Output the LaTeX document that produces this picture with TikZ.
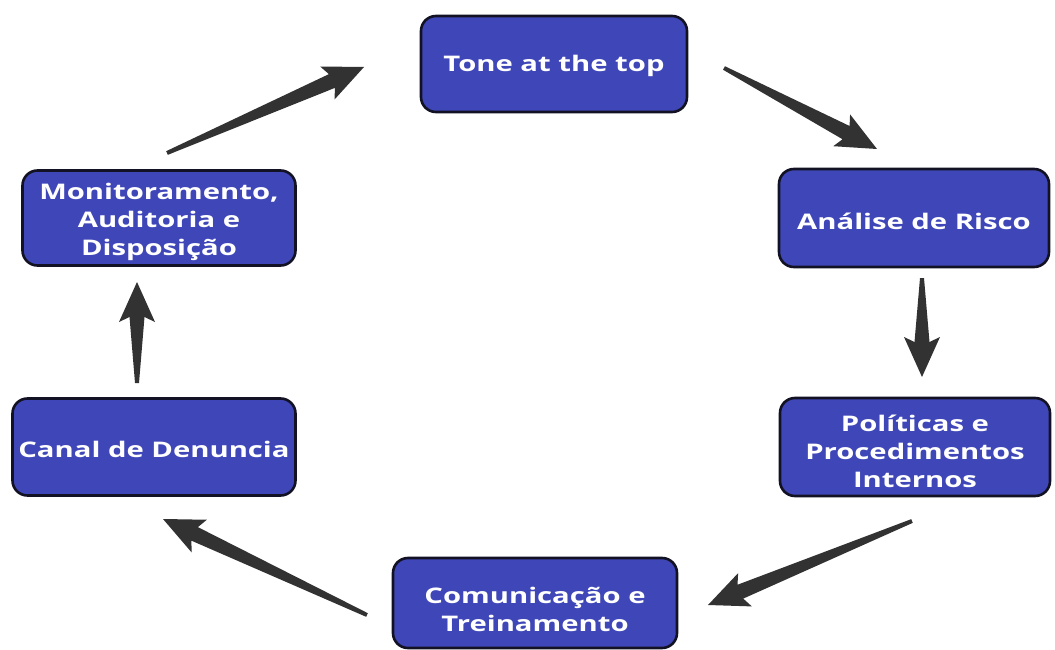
\documentclass[tikz,border=0pt]{standalone}
\usepackage{fontspec}
\setmainfont{Open Sans}[FakeStretch=1.36]
\usetikzlibrary{calc}
\definecolor{boxblue}{RGB}{63,71,184}
\definecolor{boxline}{RGB}{18,18,36}
\definecolor{arrgray}{RGB}{50,50,50}
\newcommand{\taperarrow}[2]{%
  \fill[arrgray]
    ($(#1)!2pt!90:(#2)$) --
    ($(#2)!35pt!(#1)!7.5pt!90:(#2)$) --
    ($(#2)!40pt!(#1)!18pt!90:(#2)$) --
    (#2) --
    ($(#2)!40pt!(#1)!18pt!-90:(#2)$) --
    ($(#2)!35pt!(#1)!7.5pt!-90:(#2)$) --
    ($(#1)!2pt!-90:(#2)$) -- cycle;}
\begin{document}
\begin{tikzpicture}[x=1pt,y=-1pt,
  stepbox/.style={draw=boxline,line width=2.6pt,fill=boxblue,rounded corners=15pt,inner sep=0pt},
  boxtext/.style={text=white,align=center,inner sep=0pt,
    font=\bfseries\fontsize{21.5}{28}\selectfont}]
\useasboundingbox (0,0) rectangle (1055,650);
\node[stepbox,minimum width=266pt,minimum height=96pt] (tone) at (554,64) {};
\node[stepbox,minimum width=270pt,minimum height=98pt] (analise) at (914,218) {};
\node[stepbox,minimum width=270pt,minimum height=98pt] (politicas) at (915,447) {};
\node[stepbox,minimum width=284pt,minimum height=90pt] (comunic) at (535,603) {};
\node[stepbox,minimum width=283pt,minimum height=97pt] (canal) at (154,447) {};
\node[stepbox,minimum width=273pt,minimum height=95pt] (monit) at (159,218) {};
\node[boxtext] (tonet) at ([yshift=-2pt]tone.center) {Tone at the top};
\node[boxtext] (analiset) at ([yshift=-3pt]analise.center) {Análise de Risco};
\node[boxtext] (politicast) at ([yshift=-4pt]politicas.center) {Políticas e\\Procedimentos\\Internos};
\node[boxtext] (comunict) at ([yshift=-6pt]comunic.center) {Comunicação e\\Treinamento};
\node[boxtext] (canalt) at ([yshift=-2pt]canal.center) {Canal de Denuncia};
\node[boxtext] (monitt) at ([yshift=-4pt]monit.center) {Monitoramento,\\Auditoria e\\Disposição};
% arrow end points
\coordinate (a1s) at (167,153); \coordinate (a1e) at (364,67);
\coordinate (a2s) at (724,68);  \coordinate (a2e) at (877,149);
\coordinate (a3s) at (922,278); \coordinate (a3e) at (922,377);
\coordinate (a4s) at (912,521); \coordinate (a4e) at (708,605);
\coordinate (a5s) at (367,615); \coordinate (a5e) at (163,519);
\coordinate (a6s) at (137,383); \coordinate (a6e) at (137,282);
\taperarrow{a1s}{a1e}
\taperarrow{a2s}{a2e}
\taperarrow{a3s}{a3e}
\taperarrow{a4s}{a4e}
\taperarrow{a5s}{a5e}
\taperarrow{a6s}{a6e}
\end{tikzpicture}
\end{document}
